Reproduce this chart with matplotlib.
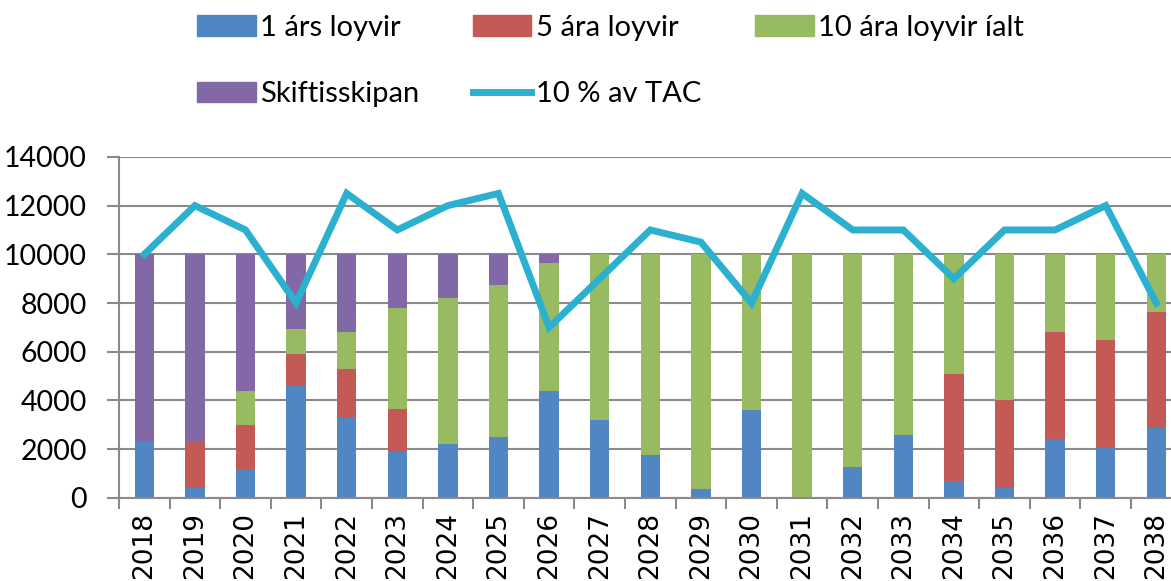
import matplotlib.pyplot as plt
import numpy as np
from matplotlib.patches import Patch
from matplotlib.lines import Line2D

years = [str(y) for y in range(2018, 2039)]

one_year = [2300, 400, 1200, 4600, 3300, 1900, 2200, 2500, 4400, 3200, 1750,
            350, 3600, 50, 1250, 2600, 700, 400, 2400, 2100, 2850]
five_year = [0, 1900, 1800, 1300, 2000, 1750, 0, 0, 0, 0, 0,
             0, 0, 0, 0, 0, 4400, 3600, 4400, 4400, 4800]
ten_year = [0, 0, 1400, 1050, 1500, 4150, 6000, 6250, 5250, 6800, 8250,
            9650, 6400, 9950, 8750, 7400, 4900, 6000, 3200, 3500, 2350]
skifti = [7700, 7700, 5600, 3050, 3200, 2200, 1800, 1250, 350, 0, 0,
          0, 0, 0, 0, 0, 0, 0, 0, 0, 0]
tac_10 = [10000, 12000, 11000, 8000, 12500, 11000, 12000, 12500, 7000, 9000, 11000,
          10500, 8000, 12500, 11000, 11000, 9000, 11000, 11000, 12000, 8000]

labels = ['1 árs loyvir', '5 ára loyvir', '10 ára loyvir íalt', 'Skiftisskipan', '10 % av TAC']
colors = ['#4F86C3', '#C45A55', '#98BB62', '#8268A6']
line_color = '#2CB0CF'

plt.rcParams['font.family'] = ['Lato', 'DejaVu Sans']

fig = plt.figure(figsize=(11.71, 5.81), dpi=100)
ax = fig.add_axes([0.1016, 0.143, 0.8984, 0.587])

x = np.arange(len(years))
w = 0.385
bottom = np.zeros(len(years))
for vals, c in zip([one_year, five_year, ten_year, skifti], colors):
    ax.bar(x, vals, w, bottom=bottom, color=c, zorder=2)
    bottom += np.array(vals)

ax.plot(x, tac_10, color=line_color, lw=5, zorder=3, solid_joinstyle='miter')

ax.set_ylim(0, 14000)
ax.set_xlim(-0.5, 20.29)
ax.set_yticks(np.arange(0, 14001, 2000))
ax.yaxis.grid(True, color='#8a8a8a', lw=1.5, zorder=1)
ax.set_axisbelow(True)

ax.set_xticks(x)
ax.set_xticklabels(years, rotation=90, fontsize=19, family='DejaVu Sans')
ax.set_xticks(np.arange(-0.5, 20.5, 1), minor=True)
ax.tick_params(axis='x', which='major', length=0, pad=10)
ax.tick_params(axis='x', which='minor', length=8, width=1.5, color='#8a8a8a')
ax.tick_params(axis='y', length=9, width=1.5, color='#8a8a8a', labelsize=20.5, pad=14)

for s in ['top', 'right']:
    ax.spines[s].set_visible(False)
for s in ['left', 'bottom']:
    ax.spines[s].set_color('#8a8a8a')
    ax.spines[s].set_linewidth(1.5)

handles = [Patch(color=colors[0]), Patch(color=colors[3]),
           Patch(color=colors[1]), Line2D([], [], color=line_color, lw=5),
           Patch(color=colors[2])]
hl = [labels[0], labels[3], labels[1], labels[4], labels[2]]
fig.legend(handles, hl, ncol=3, loc='upper left', bbox_to_anchor=(0.146, 1.02),
           frameon=False, fontsize=21, handlelength=2.0, handleheight=0.7,
           handletextpad=0.15, columnspacing=1.85, labelspacing=1.4)

fig.savefig('out.png', dpi=100)
